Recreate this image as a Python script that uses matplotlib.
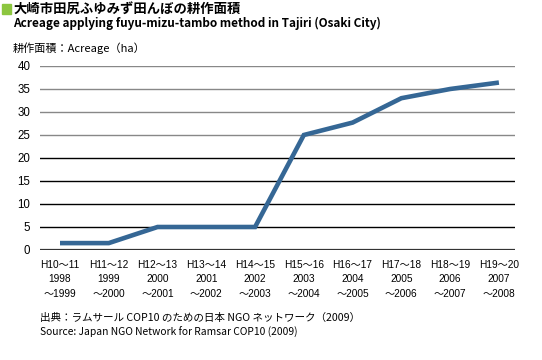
import matplotlib
matplotlib.use("Agg")
from matplotlib import pyplot as plt
from matplotlib.patches import Rectangle

plt.rcParams["font.family"] = ["Noto Sans CJK JP", "DejaVu Sans"]

# Data
periods = ["H10〜11", "H11〜12", "H12〜13", "H13〜14", "H14〜15",
           "H15〜16", "H16〜17", "H17〜18", "H18〜19", "H19〜20"]
start_years = [1998, 1999, 2000, 2001, 2002, 2003, 2004, 2005, 2006, 2007]
end_years = [1999, 2000, 2001, 2002, 2003, 2004, 2005, 2006, 2007, 2008]
acreage = [1.5, 1.5, 5.0, 5.0, 5.0, 25.0, 27.7, 33.0, 35.0, 36.4]
yticks = [0, 5, 10, 15, 20, 25, 30, 35, 40]

labels = ["%s\n%d\n〜%d" % (p, s, e)
          for p, s, e in zip(periods, start_years, end_years)]

fig = plt.figure(figsize=(5.42, 3.6), dpi=100)
ax = fig.add_axes([40 / 542, 1 - 250 / 360, 475 / 542, 184 / 360])

# grid lines: upper ones grey, lower ones black
for y in yticks[1:]:
    col = "#888888" if y >= 25 else "black"
    ax.axhline(y, color=col, lw=1.0, zorder=1)
ax.axhline(0, color="#333333", lw=1.6, zorder=1)

x = list(range(len(acreage)))
ax.plot(x, acreage, color="#356795", lw=3.3, solid_capstyle="butt",
        solid_joinstyle="miter", zorder=3)

ax.set_xlim(-0.41, 9.33)
ax.set_ylim(0, 40)
ax.set_yticks(yticks)
ax.set_xticks(x)
ax.set_xticklabels(labels, fontsize=7.3, linespacing=1.55,
                   family=["Liberation Sans", "Noto Sans CJK JP"])
ax.tick_params(axis="y", labelsize=8.3, length=0, pad=7)
ax.tick_params(axis="x", length=0, pad=7)
for lab in ax.get_yticklabels():
    lab.set_family(["Liberation Sans"])
for s in ax.spines.values():
    s.set_visible(False)

# title block
fig.patches.append(Rectangle((2 / 542, 1 - 14 / 360), 9 / 542, 10 / 360,
                             transform=fig.transFigure, color="#8cc63f"))
fig.text(13 / 542, 1 - 9 / 360, "大崎市田尻ふゆみず田んぼの耕作面積",
         fontsize=9.6, fontweight="bold", va="center", ha="left")
fig.text(13 / 542, 1 - 23 / 360,
         "Acreage applying fuyu-mizu-tambo method in Tajiri (Osaki City)",
         fontsize=8.5, fontweight="bold", va="center", ha="left")
fig.text(13 / 542, 1 - 48 / 360, "耕作面積：Acreage（ha）",
         fontsize=8.0, va="center", ha="left")

fig.text(40 / 542, 1 - 318 / 360,
         "出典：ラムサール COP10 のための日本 NGO ネットワーク（2009）",
         fontsize=7.6, va="center", ha="left")
fig.text(40 / 542, 1 - 332 / 360,
         "Source: Japan NGO Network for Ramsar COP10 (2009)",
         fontsize=7.4, va="center", ha="left")

fig.savefig("out.png", dpi=100)
